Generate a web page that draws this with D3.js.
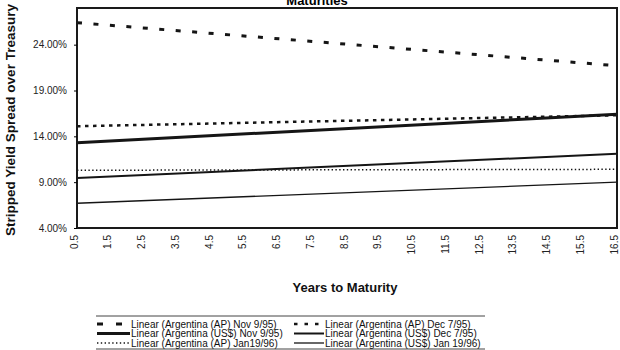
<!DOCTYPE html>
<html>
<head>
<meta charset="utf-8">
<script src="https://cdn.jsdelivr.net/npm/d3@7"></script>
<style>
    body { margin: 0; background: #fff; }
    svg { display: block; font-family: "Liberation Sans", Arial, sans-serif; }
</style>
</head>
<body>
<svg id="chart"></svg>
<script>
// years to maturity (category axis)
const categories = ["0.5", "1.5", "2.5", "3.5", "4.5", "5.5", "6.5", "7.5", "8.5",
    "9.5", "10.5", "11.5", "12.5", "13.5", "14.5", "15.5", "16.5"];

const seriesNames = [
    "Linear (Argentina (AP) Nov 9/95)",
    "Linear (Argentina (AP) Dec 7/95)",
    "Linear (Argentina (US$) Nov 9/95)",
    "Linear (Argentina (US$) Dec 7/95)",
    "Linear (Argentina (AP) Jan19/96)",
    "Linear (Argentina (US$) Jan 19/96)"
];

// trendline values (%) at 0.5 and at 16.5 years
const startValues = [26.4, 15.1, 13.3, 9.45, 10.3, 6.7];
const endValues = [21.7, 16.3, 16.4, 12.1, 10.4, 9.0];

const yTicks = [4, 9, 14, 19, 24];

const width = 620, height = 350;
const margin = { top: 8, right: 3, bottom: 122, left: 77 };

const styles = [
    { w: 3, dash: "5,11.5" },
    { w: 2.5, dash: "3.5,4.5" },
    { w: 3, dash: null },
    { w: 2, dash: null },
    { w: 1.5, dash: "1.4,2.4" },
    { w: 1.3, dash: null }
];
const legendDash = ["6,13", "3.5,7", null, null, "1.4,2.4", null];

const svg = d3.select("#chart").attr("width", width).attr("height", height);

const x = d3.scalePoint().domain(categories).range([margin.left, width - margin.right]);
const y = d3.scaleLinear().domain([4, 28]).range([height - margin.bottom, margin.top]);

const first = categories[0], last = categories[categories.length - 1];
const line = d3.line().x(d => x(d[0])).y(d => y(d[1]));

// lines
seriesNames.forEach((name, i) => {
    svg.append("path")
        .datum([[first, startValues[i]], [last, endValues[i]]])
        .attr("d", line)
        .attr("fill", "none")
        .attr("stroke", "#151515")
        .attr("stroke-width", styles[i].w)
        .attr("stroke-dasharray", styles[i].dash);
});

// plot frame
svg.append("rect")
    .attr("x", margin.left)
    .attr("y", margin.top)
    .attr("width", width - margin.right - margin.left)
    .attr("height", height - margin.bottom - margin.top)
    .attr("fill", "none")
    .attr("stroke", "#1a1a1a")
    .attr("stroke-width", 2);

// y axis
const yAxis = svg.append("g")
    .attr("transform", `translate(${margin.left}, 0)`)
    .call(d3.axisLeft(y).tickValues(yTicks).tickSize(3).tickPadding(7)
        .tickFormat(d => d.toFixed(2) + "%"));
yAxis.select(".domain").remove();
yAxis.selectAll("text").attr("font-size", "10px").attr("fill", "#222")
    .attr("font-family", "Liberation Sans, Arial, sans-serif");

// x axis labels (rotated)
svg.append("g").selectAll("text")
    .data(categories)
    .join("text")
    .attr("transform", d => `translate(${x(d) - 3}, 235) rotate(-90)`)
    .attr("text-anchor", "end")
    .attr("dy", "0.35em")
    .attr("font-size", "10px")
    .attr("fill", "#222")
    .text(d => d);

// titles (the top title is cut off by the page edge, as in the source)
svg.append("text")
    .attr("x", 317).attr("y", 5)
    .attr("text-anchor", "middle")
    .attr("font-size", "13px").attr("font-weight", "bold")
    .text("Maturities");

svg.append("text")
    .attr("x", 345).attr("y", 292)
    .attr("text-anchor", "middle")
    .attr("font-size", "13px").attr("font-weight", "bold")
    .attr("fill", "#111")
    .text("Years to Maturity");

svg.append("text")
    .attr("transform", "translate(15, 120) rotate(-90)")
    .attr("text-anchor", "middle")
    .attr("font-size", "13.5px").attr("font-weight", "bold")
    .attr("fill", "#111")
    .text("Stripped Yield Spread over Treasury");

// legend
const legend = svg.append("g");
legend.append("line").attr("x1", 96).attr("x2", 485).attr("y1", 316).attr("y2", 316)
    .attr("stroke", "#444").attr("stroke-width", 1);
legend.append("line").attr("x1", 96).attr("x2", 485).attr("y1", 349).attr("y2", 349)
    .attr("stroke", "#444").attr("stroke-width", 1);

const colX = [97, 294], colW = [33, 30];
const rowY = [324, 333.5, 343];
seriesNames.forEach((name, i) => {
    const col = i % 2, row = Math.floor(i / 2);
    const g = legend.append("g");
    g.append("line")
        .attr("x1", colX[col]).attr("x2", colX[col] + colW[col])
        .attr("y1", rowY[row]).attr("y2", rowY[row])
        .attr("stroke", "#151515")
        .attr("stroke-width", styles[i].w)
        .attr("stroke-dasharray", legendDash[i]);
    g.append("text")
        .attr("x", colX[col] + colW[col] + 1)
        .attr("y", rowY[row])
        .attr("dy", "0.35em")
        .attr("font-size", "10px")
        .attr("fill", "#111")
        .text(name);
});
</script>
</body>
</html>
